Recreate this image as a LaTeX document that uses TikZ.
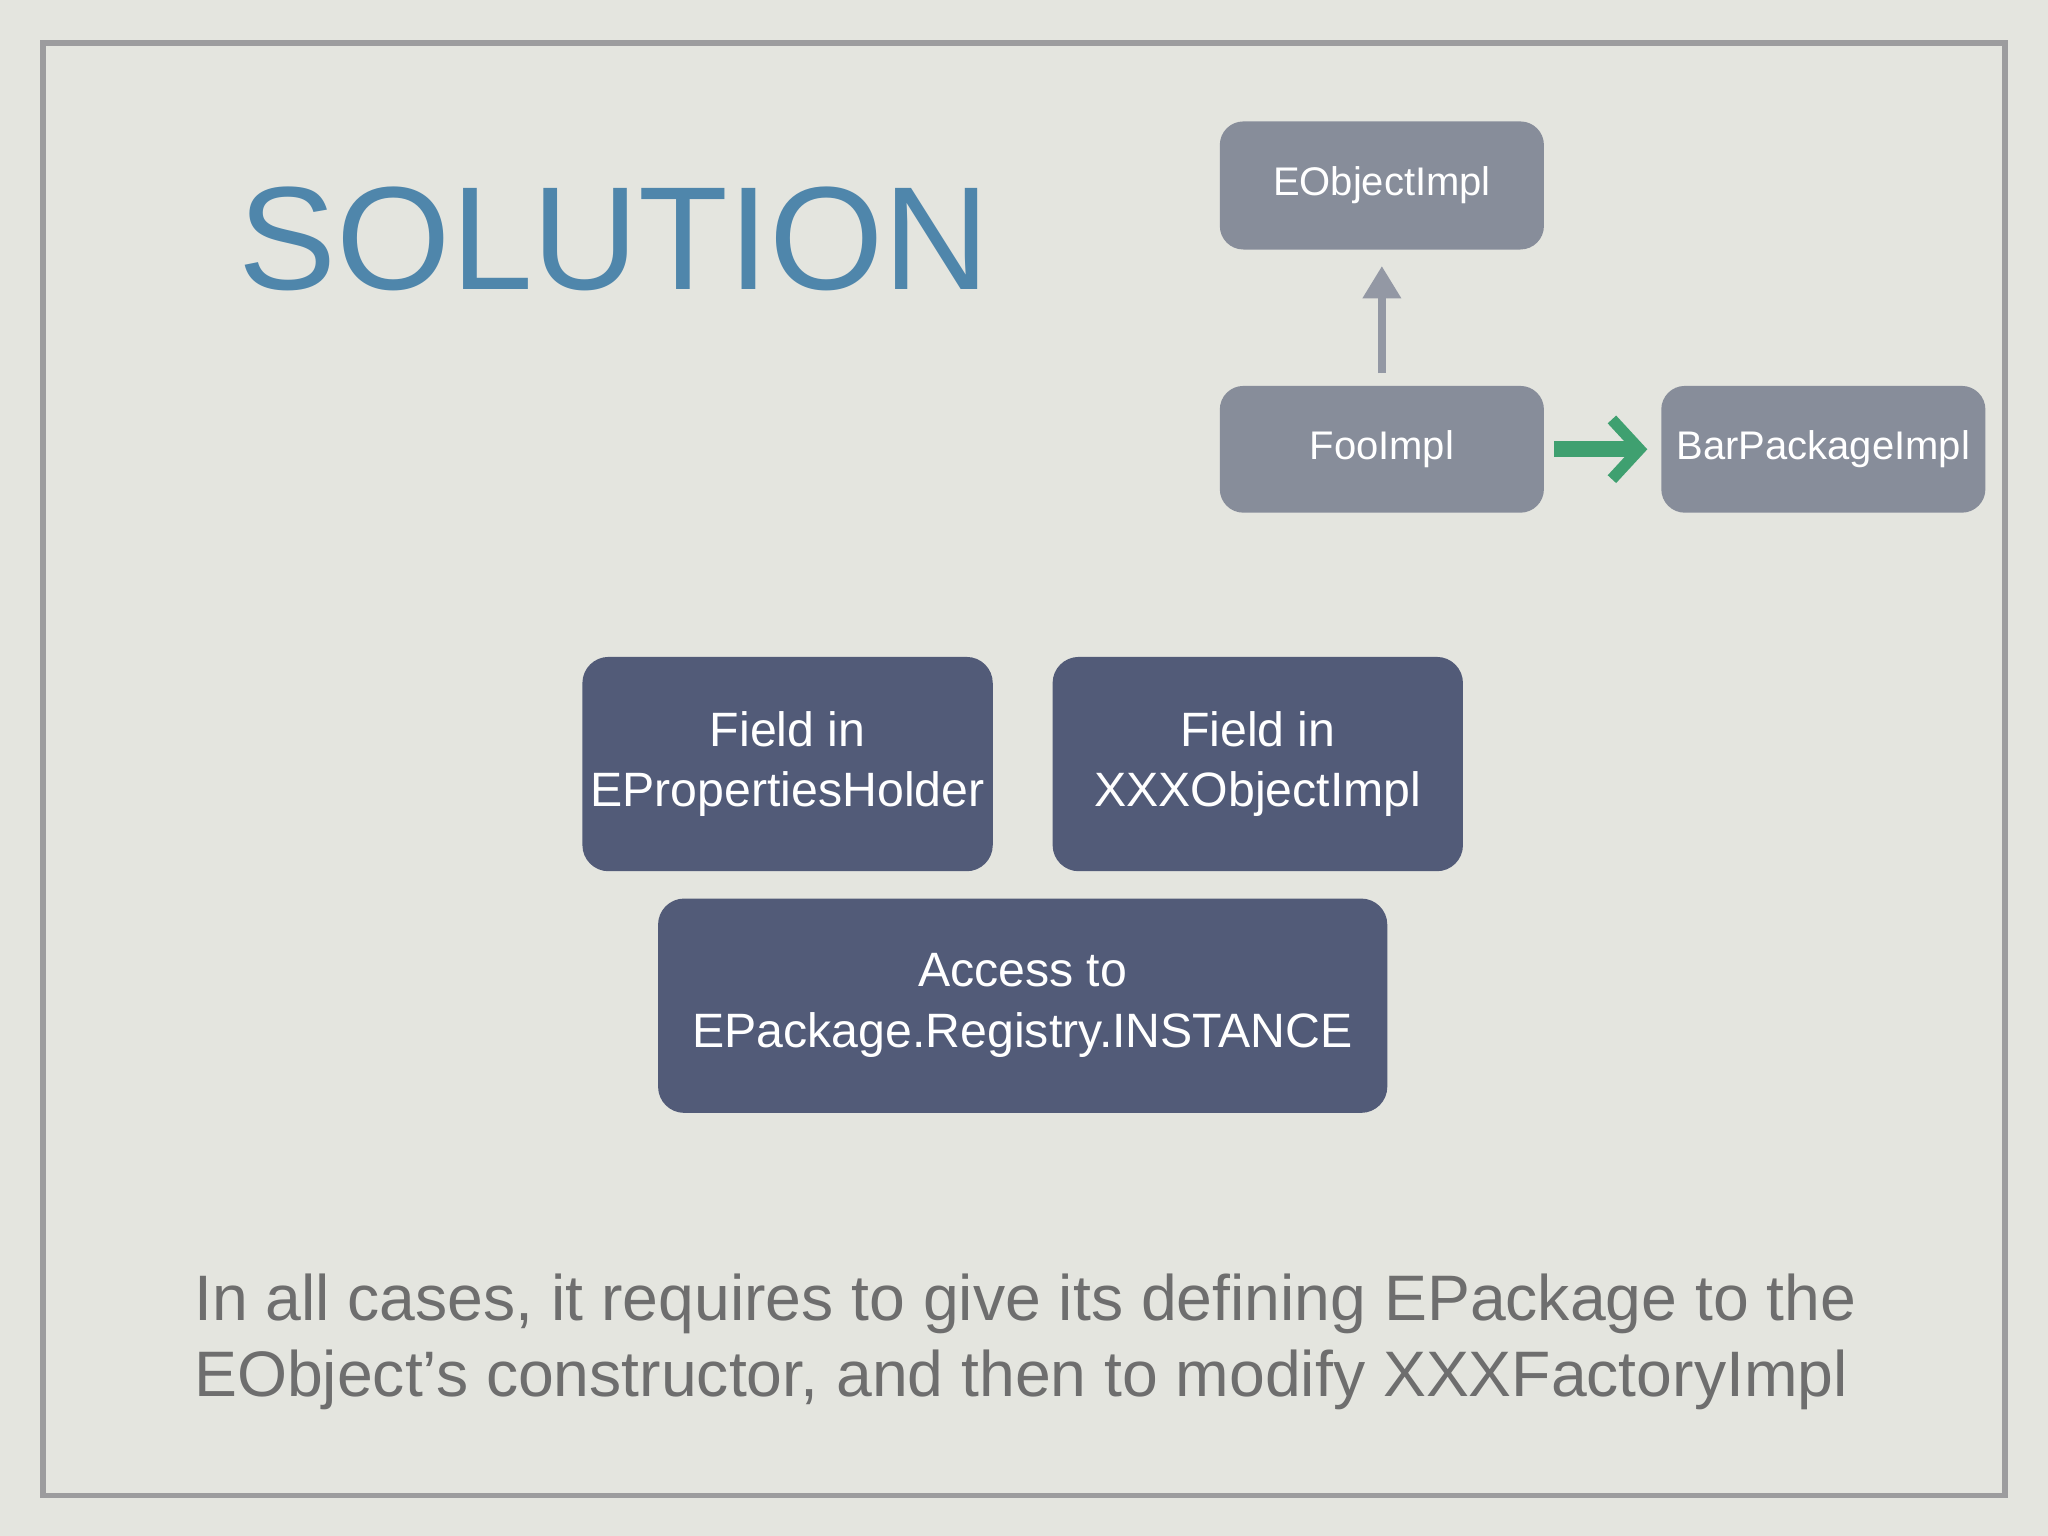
\documentclass[tikz,border=0pt]{standalone}
\usepackage{fontspec}
\setmainfont{Liberation Sans}
\usetikzlibrary{arrows.meta}
\definecolor{bg}{HTML}{E4E5DF}
\definecolor{frame}{HTML}{9C9C9E}
\definecolor{lightbox}{HTML}{878D9A}
\definecolor{darkbox}{HTML}{525B78}
\definecolor{titleblue}{HTML}{4F86AB}
\definecolor{bodygray}{HTML}{6E6E6E}
\definecolor{greenarrow}{HTML}{3FA070}
\tikzset{
  lbox/.style={draw=none,fill=lightbox,rounded corners=0.18cm,text=white,font=\fontsize{8.7}{10}\selectfont,inner sep=0pt},
  dbox/.style={draw=none,fill=darkbox,rounded corners=0.2cm,text=white,font=\fontsize{10.5}{13.2}\selectfont,align=center,inner sep=0pt},
}
\begin{document}
\begin{tikzpicture}[x=0.01cm,y=-0.01cm]
\fill[bg] (0,0) rectangle (1568,1176);
\useasboundingbox (0,0) rectangle (1568,1176);
\draw[frame,line width=1.2pt] (33,33) rectangle (1535,1145);
\node[anchor=base west,text=titleblue,font=\fontsize{32}{34}\selectfont,inner sep=0pt] (title) at (182,222) {SOLUTION};
\node[lbox,minimum width=2.48cm,minimum height=0.98cm] (eobj) at (1058,142) {EObjectImpl};
\node[lbox,minimum width=2.48cm,minimum height=0.97cm] (foo) at (1058,344) {FooImpl};
\node[lbox,minimum width=2.48cm,minimum height=0.97cm] (bar) at (1396,344) {BarPackageImpl};
\draw[-{Triangle[width=8pt,length=7pt]},draw=lightbox!90,fill=lightbox!90,line width=1.6pt,shorten >=0.12cm,shorten <=0.09cm] (foo.north) -- (eobj.south);
\draw[-{Straight Barb[length=6pt,width=13pt,line width=2.5pt]},greenarrow,line width=3.5pt,shorten <=0.07cm,shorten >=0.1cm] (foo.east) -- (bar.west);
\node[dbox,minimum width=3.14cm,minimum height=1.64cm] (f1) at (603,585) {Field in\\EPropertiesHolder};
\node[dbox,minimum width=3.14cm,minimum height=1.64cm] (f2) at (963,585) {Field in\\XXXObjectImpl};
\node[dbox,minimum width=5.58cm,minimum height=1.64cm] (acc) at (783,770) {Access to\\EPackage.Registry.INSTANCE};
\node[anchor=north west,text=bodygray,font=\fontsize{14}{16.5}\selectfont,align=left,inner sep=0pt] (body) at (148,975) {In all cases, it requires to give its defining EPackage to the\\EObject’s constructor, and then to modify XXXFactoryImpl};
\end{tikzpicture}
\end{document}
